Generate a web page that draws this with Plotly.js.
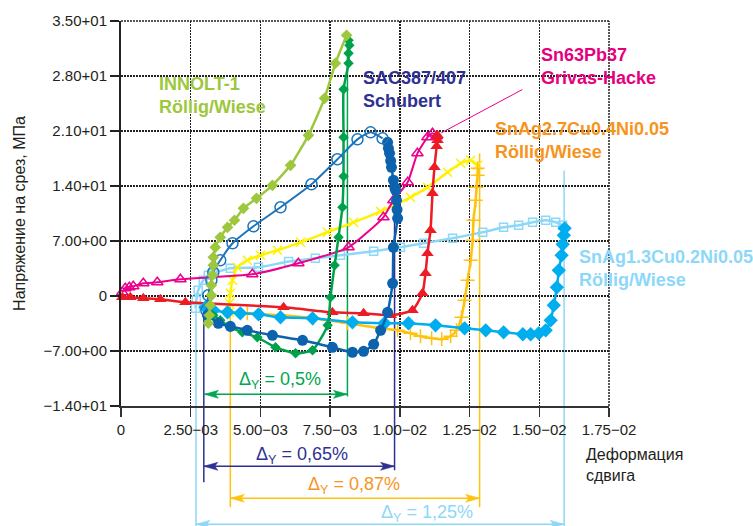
<!DOCTYPE html>
<html>
<head>
<meta charset="utf-8">
<script src="https://cdn.plot.ly/plotly-3.0.1.min.js"></script>
<style>html,body{margin:0;padding:0;background:#fff;}#chart{width:753px;height:526px;}</style>
</head>
<body>
<div id="chart"></div>
<script>
// ---- INNOLT-1 (Röllig/Wiese) ----
var innoltUpX = [0.00313,0.00317,0.00320,0.00324,0.00324,0.00328,0.00331,0.00331,0.00338,0.00356,0.00382,0.00407,0.00439,0.00486,0.00543,0.00608,0.00672,0.00730,0.00769,0.00809];
var innoltUpY = [-3.47,-2.46,-1.18,0.09,1.36,2.63,3.91,4.93,6.20,7.47,8.74,9.64,11.16,12.43,14.09,16.63,20.45,25.16,29.62,33.18];
var innoltDnX = [0.00816,0.00819,0.00816,0.00816,0.00798,0.00798,0.00798,0.00794,0.00780,0.00766,0.00751,0.00741,0.00687,0.00626,0.00554,0.00489,0.00435,0.00392,0.00356,0.00331];
var innoltDnY = [32.54,31.91,30.89,29.62,26.31,20.20,15.23,11.29,7.47,3.91,-0.17,-3.73,-6.91,-7.29,-6.53,-5.26,-4.62,-3.98,-3.09,-2.46];

// ---- SAC387/407 (Schubert) ----
var sacUpX = [0.00306,0.00313,0.00324,0.00331,0.00356,0.00400,0.00475,0.00572,0.00683,0.00776,0.00848,0.00895,0.00938];
var sacUpY = [-1.82,0.09,2.00,3.02,4.54,6.71,8.87,11.29,14.22,17.40,19.94,20.83,20.07];
var sacDnX = [0.00956,0.00959,0.00963,0.00967,0.00970,0.00977,0.00982,0.00985,0.00988,0.00990,0.00992,0.00977,0.00974,0.00956,0.00931,0.00906,0.00870,0.00830,0.00758,0.00651,0.00543,0.00453,0.00392,0.00349,0.00310];
var sacDnY = [19.56,18.80,18.16,17.20,16.38,14.73,13.80,13.45,12.18,11.00,9.89,6.20,1.62,-2.08,-4.37,-6.15,-7.04,-7.16,-6.53,-5.64,-5.00,-4.37,-3.86,-3.47,-2.46];

// ---- Sn63Pb37 (Grivas-Hacke) ----
var pbUpX = [0.000047,0.000154,0.000298,0.000441,0.00080,0.00130,0.00213,0.00471,0.00636,0.00816,0.00941,0.00977,0.01028,0.01063,0.01099,0.01117,0.01132];
var pbUpY = [0.47,0.98,1.11,1.23,1.62,1.74,2.13,2.76,4.16,6.20,10.02,12.18,14.47,18.16,20.20,20.71,20.32];
var pbDnX = [0.01135,0.01135,0.01132,0.01124,0.01117,0.01110,0.01099,0.01092,0.01081,0.01045,0.00967,0.00870,0.00758,0.00583,0.00231,0.00141,0.00080,0.000334,0.000047];
var pbDnY = [20.45,19.81,19.05,16.38,13.07,8.36,5.43,2.89,0.34,-1.82,-2.46,-2.20,-2.08,-1.44,-0.80,-0.42,-0.29,-0.17,-0.17];

// ---- SnAg2.7Cu0.4Ni0.05 (Röllig/Wiese) ----
var ag27UpX = [0.00389,0.00389,0.00392,0.00400,0.00417,0.00453,0.00500,0.00561,0.00644,0.00740,0.00834,0.00931,0.01038,0.01099,0.01171,0.01218,0.01254,0.01279];
var ag27UpY = [-2.08,-0.93,0.34,2.00,3.65,4.54,5.18,5.82,6.83,8.11,9.38,10.78,12.56,13.83,15.74,16.89,17.27,16.63];
var ag27DnX = [0.01279,0.01279,0.01275,0.01272,0.01264,0.01261,0.01254,0.01243,0.01232,0.01221,0.01203,0.01182,0.01150,0.01114,0.01074,0.01038,0.00992,0.00931,0.00812,0.00690,0.00572,0.00453,0.00392];
var ag27DnY = [16.25,15.36,13.83,12.18,9.64,7.09,4.54,2.00,-0.55,-2.71,-4.37,-5.13,-5.51,-5.38,-5.13,-4.75,-4.37,-4.11,-3.47,-2.84,-2.46,-2.20,-2.08];

// ---- SnAg1.3Cu0.2Ni0.05 (Röllig/Wiese) ----
var ag13UpX = [0.00267,0.00270,0.00277,0.00295,0.00313,0.00331,0.00392,0.00493,0.00601,0.00697,0.00787,0.00906,0.01002,0.01085,0.01189,0.01297,0.01372,0.01426,0.01476,0.01523,0.01559,0.01584];
var ag13UpY = [-1.57,-0.55,0.73,2.00,2.63,2.89,3.53,3.65,4.39,4.80,5.18,5.69,6.20,6.71,7.34,8.11,8.74,9.00,9.38,9.64,9.38,9.00];
var ag13DnX = [0.01591,0.01588,0.01584,0.01580,0.01570,0.01563,0.01552,0.01541,0.01523,0.01498,0.01469,0.01441,0.01372,0.01308,0.01232,0.01128,0.01031,0.00945,0.00830,0.00687,0.00572,0.00493,0.00428,0.00382,0.00331,0.00303];
var ag13DnY = [8.61,7.73,6.58,5.18,3.27,1.11,-1.18,-3.09,-4.37,-4.75,-4.87,-4.87,-4.62,-4.37,-4.11,-3.73,-3.47,-3.47,-3.35,-2.84,-2.71,-2.33,-2.20,-2.08,-1.82,-1.44];

// ---- axis ticks ----
var xTickVals = [0,0.0025,0.005,0.0075,0.01,0.0125,0.015,0.0175];
var xTickText = ['0','2.50\u221203','5.00\u221203','7.50\u221203','1.00\u221202','1.25\u221202','1.50\u221202','1.75\u221202'];
var yTickVals = [-14,-7,0,7,14,21,28,35];
var yTickText = ['\u22121.40+01','\u22127.00+00','0','7.00+00','1.40+01','2.10+01','2.80+01','3.50+01'];

// ---- yield-strain markers: [left x, right x] ----
var dgGreen = [0.00299,0.00812];
var dgNavy = [0.00297,0.00981];
var dgGold = [0.00392,0.01286];
var dgLight = [0.00269,0.01589];
var dgLabels = ['\u0394<sub>Y</sub> = 0,5%','\u0394<sub>Y</sub> = 0,65%','\u0394<sub>Y</sub> = 0,87%','\u0394<sub>Y</sub> = 1,25%'];

var FONT = 'Arial, "Liberation Sans", sans-serif';

function tr(x,y,color,sym,size,lw,mlw){
  return {x:x,y:y,type:'scatter',mode:'lines+markers',cliponaxis:false,
    line:{color:color,width:lw,shape:'spline',smoothing:0.5},
    marker:{symbol:sym,size:size,color:color,line:{color:color,width:mlw||0}},
    hoverinfo:'skip',showlegend:false};
}

var traces = [
  tr(ag13UpX,ag13UpY,'#8DD8F8','square-open',8,2.5,1.5),
  tr(ag27UpX,ag27UpY,'#FFF200','x-thin',9,2.5,1.5),
  tr(ag27DnX,ag27DnY,'#FFC20E','cross-thin',10,2.5,1.5),
  tr(pbUpX,pbUpY,'#EC008C','triangle-up-open',10,2,1.5),
  tr(pbDnX,pbDnY,'#ED1C24','triangle-up',11,2.5,0),
  tr(ag13DnX,ag13DnY,'#00AEEF','diamond',11,2.5,0),
  tr(innoltDnX,innoltDnY,'#00A14B','diamond',8,2.5,0),
  tr(sacDnX,sacDnY,'#0D62AE','circle',11,2.5,0),
  tr(sacUpX,sacUpY,'#1C75BC','circle-open',11,2,1.5),
  tr(innoltUpX,innoltUpY,'#9DC73D','diamond',9,2.5,0)
];

function vline(x,y0,y1,color){
  return {type:'line',xref:'x',yref:'paper',x0:x,x1:x,y0:y0,y1:y1,layer:'below',line:{color:color,width:1.5}};
}
// double-headed dimension arrow: line + two arrowheads (pixel-sized paths anchored at data x)
function dimArrow(pair,py,color){
  var head = {type:'path',xref:'x',yref:'paper',xsizemode:'pixel',ysizemode:'pixel',yanchor:py,
    fillcolor:color,line:{color:color,width:0.5},layer:'above'};
  var left = Object.assign({},head,{xanchor:pair[0],path:'M0,0 L14,4 L11,0 L14,-4 Z'});
  var right = Object.assign({},head,{xanchor:pair[1],path:'M0,0 L-14,4 L-11,0 L-14,-4 Z'});
  return [
    {type:'line',xref:'x',yref:'paper',x0:pair[0],x1:pair[1],y0:py,y1:py,layer:'above',line:{color:color,width:1.5}},
    left,right
  ];
}
var shapes = [
  vline(dgGreen[1],0.95,0.025,'#00A651'),
  vline(dgNavy[0],0.262,-0.198,'#2E3192'),
  vline(dgNavy[1],0.55,-0.167,'#2E3192'),
  vline(dgGold[0],0.243,-0.263,'#FFC20E'),
  vline(dgGold[1],0.656,-0.263,'#FFC20E'),
  vline(dgLight[0],0.262,-0.32,'#8DD8F8'),
  vline(dgLight[1],0.612,-0.32,'#8DD8F8'),
  {type:'line',xref:'paper',yref:'paper',x0:0,x1:1,y0:1,y1:1,line:{color:'#222',width:1.5,dash:'2px,1px'}},
  {type:'line',xref:'paper',yref:'paper',x0:1,x1:1,y0:0,y1:1,line:{color:'#222',width:1.5,dash:'2px,1px'}},
  {type:'line',xref:'x',yref:'y',x0:0.01439,y0:26.27,x1:0.01148,y1:20.75,line:{color:'#EC008C',width:1}}
].concat(
  dimArrow(dgGreen,0.0304,'#00A651'),
  dimArrow(dgNavy,-0.1566,'#2E3192'),
  dimArrow(dgGold,-0.2396,'#FFC20E'),
  dimArrow(dgLight,-0.307,'#8DD8F8')
);

function lbl(x,y,text,color){
  return {xref:'x',yref:'y',x:x,y:y,text:text,showarrow:false,xanchor:'left',yanchor:'middle',align:'left',
    font:{family:FONT,size:18,color:color,weight:'bold'}};
}
function dlbl(x,py,text,color){
  return {xref:'x',yref:'paper',x:x,y:py,text:text,showarrow:false,xanchor:'center',yanchor:'middle',
    font:{family:FONT,size:18,color:color}};
}

var annotations = [
  dlbl(0.005717,0.0668,dgLabels[0],'#00A651'),
  dlbl(0.006505,-0.128,dgLabels[1],'#2E3192'),
  dlbl(0.008372,-0.206,dgLabels[2],'#F7941D'),
  dlbl(0.010990,-0.279,dgLabels[3],'#8DD8F8'),
  lbl(0.001305,25.54,'INNOLT-1<br>Röllig/Wiese','#9DC73D'),
  lbl(0.008593,26.31,'SAC387/407<br>Schubert','#2E3192'),
  lbl(0.014979,29.24,'Sn63Pb37<br>Grivas-Hacke','#E5007E'),
  lbl(0.013327,19.82,'SnAg2.7Cu0.4Ni0.05<br>Röllig/Wiese','#F7941D'),
  lbl(0.016344,3.53,'SnAg1.3Cu0.2Ni0.05<br>Röllig/Wiese','#8DD8F8'),
  {xref:'paper',yref:'paper',x:0.948,y:-0.098,xanchor:'left',yanchor:'top',align:'left',showarrow:false,
   text:'Деформация<br>сдвига',font:{family:FONT,size:16,color:'#231F20'}}
];

var layout = {
  width:753,height:526,
  margin:{l:121,r:144,t:21,b:120,pad:0},
  paper_bgcolor:'#fff',plot_bgcolor:'#fff',
  font:{family:FONT,size:15,color:'#231F20'},
  showlegend:false,
  xaxis:{range:[0,0.0175],tickvals:xTickVals,ticktext:xTickText,showgrid:true,gridcolor:'#222',gridwidth:1.5,griddash:'2px,1px',
    zeroline:false,showline:true,linecolor:'#333',linewidth:2,ticks:'outside',ticklen:9,tickwidth:1.5,tickcolor:'#333',
    tickfont:{family:FONT,size:15,color:'#231F20'},automargin:false,fixedrange:true},
  yaxis:{range:[-14,35],tickvals:yTickVals,ticktext:yTickText,showgrid:true,gridcolor:'#222',gridwidth:1.5,griddash:'2px,1px',
    zeroline:false,showline:true,linecolor:'#222',linewidth:2,ticks:'outside',ticklen:9,tickwidth:1.5,tickcolor:'#222',
    tickfont:{family:FONT,size:15,color:'#231F20'},automargin:false,fixedrange:true,
    title:{text:'Напряжение на срез, МПа',font:{family:FONT,size:16,color:'#231F20'},standoff:14}},
  shapes:shapes,
  annotations:annotations
};

Plotly.newPlot('chart',traces,layout,{displayModeBar:false,staticPlot:true});
</script>
</body>
</html>
